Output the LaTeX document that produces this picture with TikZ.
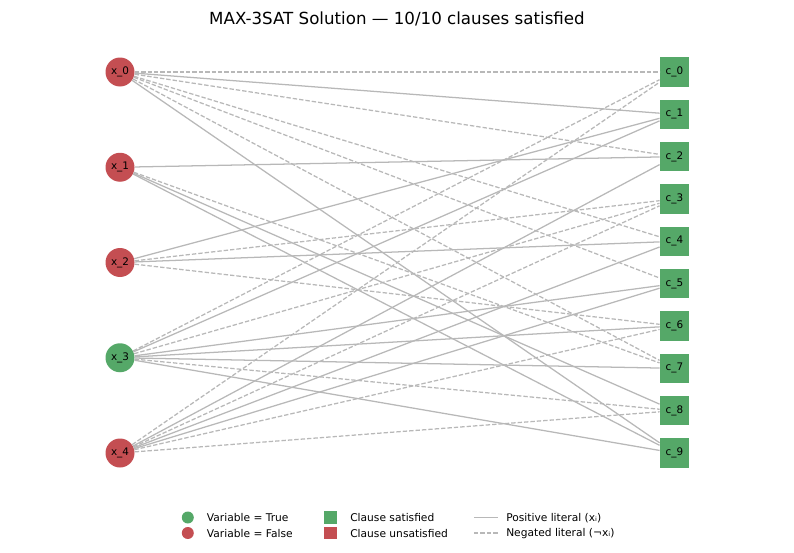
\documentclass[tikz,border=0pt]{standalone}
\usepackage{fontspec}
\setmainfont{DejaVu Sans}
\usepackage{xcolor}
\usetikzlibrary{shapes}

\definecolor{varfalse}{RGB}{196,78,82}
\definecolor{vartrue}{RGB}{85,168,104}
\definecolor{litgray}{RGB}{184,184,184}

\tikzset{
  varnode/.style={circle,draw=none,inner sep=0pt,minimum size=21.75pt,font=\fontsize{7.8}{9}\selectfont},
  clausenode/.style={rectangle,draw=none,fill=vartrue,inner sep=0pt,minimum size=22pt,font=\fontsize{7.8}{9}\selectfont},
  poslit/.style={color=litgray,line width=0.95pt},
  neglit/.style={poslit,dash pattern={on 3.3pt off 1.5pt}},
  keytext/.style={anchor=west,inner sep=0pt,font=\fontsize{8}{10}\selectfont},
}

\begin{document}
\begin{tikzpicture}[x=0.75pt,y=0.75pt,yscale=-1,xscale=1]
\useasboundingbox (0,0) rectangle (794,553);

% Text Node
\node (title) at (397,18.5) [inner sep=0pt,font=\fontsize{12.5}{14}\selectfont] {MAX-3SAT Solution — 10/10 clauses satisfied};

%Shape: Circle
\node (x0) at (120,72) [varnode,fill=varfalse] {x\_0};
\node (x1) at (120,167.25) [varnode,fill=varfalse] {x\_1};
\node (x2) at (120,262.5) [varnode,fill=varfalse] {x\_2};
\node (x3) at (120,357.75) [varnode,fill=vartrue] {x\_3};
\node (x4) at (120,453) [varnode,fill=varfalse] {x\_4};

%Shape: Square
\node (c0) at (674.5,72) [clausenode] {c\_0};
\node (c1) at (674.5,114.33) [clausenode] {c\_1};
\node (c2) at (674.5,156.67) [clausenode] {c\_2};
\node (c3) at (674.5,199) [clausenode] {c\_3};
\node (c4) at (674.5,241.33) [clausenode] {c\_4};
\node (c5) at (674.5,283.67) [clausenode] {c\_5};
\node (c6) at (674.5,326) [clausenode] {c\_6};
\node (c7) at (674.5,368.33) [clausenode] {c\_7};
\node (c8) at (674.5,410.67) [clausenode] {c\_8};
\node (c9) at (674.5,453) [clausenode] {c\_9};

%Straight Lines from x_0
\draw [neglit] (x0) -- (c0) ;
\draw [poslit] (x0) -- (c1) ;
\draw [neglit] (x0) -- (c2) ;
\draw [neglit] (x0) -- (c4) ;
\draw [neglit] (x0) -- (c5) ;
\draw [neglit] (x0) -- (c7) ;
\draw [poslit] (x0) -- (c9) ;
%Straight Lines from x_1
\draw [poslit] (x1) -- (c2) ;
\draw [neglit] (x1) -- (c7) ;
\draw [poslit] (x1) -- (c8) ;
\draw [poslit] (x1) -- (c9) ;
%Straight Lines from x_2
\draw [poslit] (x2) -- (c1) ;
\draw [neglit] (x2) -- (c3) ;
\draw [poslit] (x2) -- (c4) ;
\draw [neglit] (x2) -- (c6) ;
%Straight Lines from x_3
\draw [neglit] (x3) -- (c0) ;
\draw [poslit] (x3) -- (c1) ;
\draw [neglit] (x3) -- (c3) ;
\draw [poslit] (x3) -- (c5) ;
\draw [poslit] (x3) -- (c6) ;
\draw [poslit] (x3) -- (c7) ;
\draw [neglit] (x3) -- (c8) ;
\draw [poslit] (x3) -- (c9) ;
%Straight Lines from x_4
\draw [neglit] (x4) -- (c0) ;
\draw [poslit] (x4) -- (c2) ;
\draw [neglit] (x4) -- (c3) ;
\draw [poslit] (x4) -- (c4) ;
\draw [poslit] (x4) -- (c5) ;
\draw [neglit] (x4) -- (c6) ;
\draw [neglit] (x4) -- (c8) ;

%Legend
\node (keyT) at (187.8,517.5) [circle,fill=vartrue,inner sep=0pt,minimum size=9pt] {};
\node (keyF) at (187.8,533) [circle,fill=varfalse,inner sep=0pt,minimum size=9pt] {};
\node (keyS) at (330.3,517.5) [rectangle,fill=vartrue,inner sep=0pt,minimum size=9.4pt] {};
\node (keyU) at (330.3,533) [rectangle,fill=varfalse,inner sep=0pt,minimum size=9.4pt] {};
\coordinate (keyPa) at (474,517.5);
\coordinate (keyPb) at (498.3,517.5);
\coordinate (keyNa) at (474,533);
\coordinate (keyNb) at (498.3,533);
\draw [poslit] (keyPa) -- (keyPb) ;
\draw [neglit] (keyNa) -- (keyNb) ;

% Text Node
\node (keyTtext) at (206.7,518) [keytext] {Variable = True};
% Text Node
\node (keyFtext) at (206.7,533.5) [keytext] {Variable = False};
% Text Node
\node (keyStext) at (350,518) [keytext] {Clause satisfied};
% Text Node
\node (keyUtext) at (350,533.5) [keytext] {Clause unsatisfied};
% Text Node
\node (keyPtext) at (506,518) [keytext] {Positive literal (xᵢ)};
% Text Node
\node (keyNtext) at (506,533.5) [keytext] {Negated literal (¬xᵢ)};

\end{tikzpicture}
\end{document}
